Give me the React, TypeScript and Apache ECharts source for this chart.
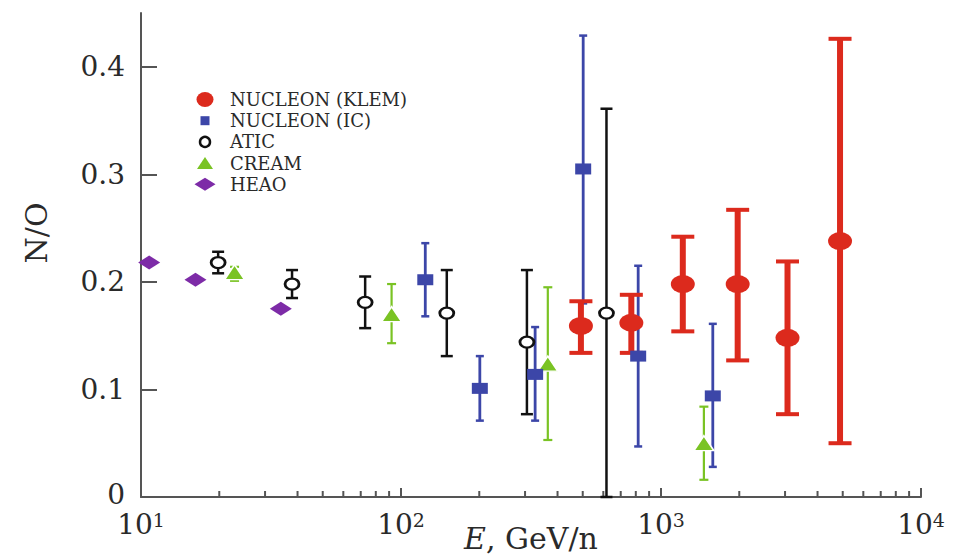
import React, { useEffect, useRef } from "react";
import * as echarts from "echarts";

// NUCLEON (KLEM)
const klemE = [492, 769, 1213, 1972, 3066, 4882];
const klemY = [0.159, 0.162, 0.198, 0.198, 0.148, 0.238];
const klemLo = [0.134, 0.134, 0.154, 0.127, 0.077, 0.05];
const klemHi = [0.182, 0.188, 0.242, 0.267, 0.219, 0.426];

// NUCLEON (IC)
const icE = [124, 201, 328, 502, 817, 1582];
const icY = [0.202, 0.101, 0.114, 0.305, 0.131, 0.094];
const icLo = [0.168, 0.071, 0.071, 0.18, 0.047, 0.028];
const icHi = [0.236, 0.131, 0.158, 0.429, 0.215, 0.161];

// ATIC
const aticE = [19.8, 38.1, 72.8, 150, 305, 617];
const aticY = [0.218, 0.198, 0.181, 0.171, 0.144, 0.171];
const aticLo = [0.208, 0.185, 0.157, 0.131, 0.077, 0];
const aticHi = [0.228, 0.211, 0.205, 0.211, 0.211, 0.361];

// CREAM
const creamE = [22.9, 92, 367, 1462];
const creamY = [0.209, 0.17, 0.124, 0.05];
const creamLo = [0.201, 0.143, 0.053, 0.016];
const creamHi = [0.214, 0.198, 0.195, 0.084];

// HEAO
const heaoE = [10.75, 16.2, 34.5];
const heaoY = [0.218, 0.202, 0.175];

// axes
const yTicks = [0, 0.1, 0.2, 0.3, 0.4];
const yLabels = ["0", "0.1", "0.2", "0.3", "0.4"];
const xMajor = [10, 100, 1000, 10000];
const xExponents = ["1", "2", "3", "4"];
const xMinor = [
  20, 30, 40, 50, 60, 70, 80, 90,
  200, 300, 400, 500, 600, 700, 800, 900,
  2000, 3000, 4000, 5000, 6000, 7000, 8000, 9000,
];

const RED = "#dc2a1d";
const BLUE = "#3c46a8";
const GREEN = "#7ac324";
const PURPLE = "#7d2ba7";
const BLACK = "#111111";
const AXIS = "#555555";
const TEXT = "#2a2a2a";
const FONT = "DejaVu Serif";

const CIRCLE_PATH = "path://M0,10A10,10,0,1,1,20,10A10,10,0,1,1,0,10Z";

function errorBars(name: string, E: number[], lo: number[], hi: number[], color: string, lw: number, cap: number, capW: number) {
  return {
    type: "custom",
    name: name + " err",
    silent: true,
    encode: { x: 0, y: [1, 2] },
    data: E.map((e, i) => [e, lo[i], hi[i]]),
    renderItem: (params: any, api: any) => {
      const x = api.value(0);
      const pLo = api.coord([x, api.value(1)]);
      const pHi = api.coord([x, api.value(2)]);
      return {
        type: "group",
        children: [
          { type: "line", shape: { x1: pLo[0], y1: pLo[1], x2: pHi[0], y2: pHi[1] }, style: { stroke: color, lineWidth: lw } },
          { type: "line", shape: { x1: pLo[0] - cap / 2, y1: pLo[1], x2: pLo[0] + cap / 2, y2: pLo[1] }, style: { stroke: color, lineWidth: capW } },
          { type: "line", shape: { x1: pHi[0] - cap / 2, y1: pHi[1], x2: pHi[0] + cap / 2, y2: pHi[1] }, style: { stroke: color, lineWidth: capW } },
        ],
      };
    },
  };
}

// icon box is 40 wide; the legend is positioned by the drawn icon's own left edge
function legendRow(name: string, icon: string, h: number, drawnW: number, center: number, itemStyle?: any) {
  return {
    show: true,
    left: 185 + (40 - drawnW) / 2,
    top: center - 10,
    padding: 0,
    itemWidth: 40,
    itemHeight: h,
    selectedMode: false,
    textStyle: { color: TEXT, fontFamily: FONT, fontSize: 18, lineHeight: 20 },
    data: [itemStyle ? { name, icon, itemStyle } : { name, icon }],
  };
}

export default function App() {
  const ref = useRef<HTMLDivElement>(null);
  useEffect(() => {
    if (!ref.current) return;
    const chart = echarts.init(ref.current, null, { renderer: "svg" });
    const option: any = {
      animation: false,
      backgroundColor: "#ffffff",
      grid: { left: 141, right: 35, top: 13, bottom: 62, containLabel: false, outerBoundsMode: "none" },
      legend: [
        legendRow("NUCLEON (KLEM)", "path://M0,7.5A8.5,7.5,0,1,1,17,7.5A8.5,7.5,0,1,1,0,7.5Z", 15, 17, 99.5),
        legendRow("NUCLEON (IC)", "path://M0,0L9,0L9,9L0,9Z", 9, 9, 120.7),
        legendRow("ATIC", "circle", 10, 12.5, 141.9, { color: "#ffffff", borderColor: BLACK, borderWidth: 2.5 }),
        legendRow("CREAM", "path://M0,12L8,0L16,12Z", 12, 16, 163.1, { color: GREEN, borderWidth: 0 }),
        legendRow("HEAO", "path://M0,6.5L10.5,0L21,6.5L10.5,13Z", 13, 21, 184.3),
      ],
      xAxis: {
        type: "log",
        logBase: 10,
        min: 10,
        max: 10000,
        name: "{i|E}, GeV/n",
        nameLocation: "middle",
        nameMoveOverlap: false,
        nameGap: 26,
        nameTextStyle: {
          fontFamily: FONT,
          fontSize: 30,
          color: TEXT,
          verticalAlign: "top",
          rich: { i: { fontFamily: FONT, fontSize: 30, fontStyle: "italic", color: TEXT } },
        },
        axisLine: { show: true, lineStyle: { color: AXIS, width: 2 } },
        axisTick: { show: true, inside: true, length: 9, lineStyle: { color: AXIS, width: 2 } },
        splitLine: { show: false },
        axisLabel: {
          showMinLabel: true,
          showMaxLabel: true,
          margin: 13,
          formatter: (v: number) => {
            const i = xMajor.findIndex((m) => Math.abs(m - v) / m < 1e-6);
            return i >= 0 ? "{b|10}{s|" + xExponents[i] + "}" : "";
          },
          rich: {
            b: { fontFamily: FONT, fontSize: 28, color: TEXT, lineHeight: 28 },
            s: { fontFamily: FONT, fontSize: 19, color: TEXT, verticalAlign: "top", lineHeight: 22 },
          },
        },
      },
      yAxis: {
        type: "value",
        min: 0,
        max: 0.45,
        name: "N/O",
        nameLocation: "middle",
        nameMoveOverlap: false,
        nameGap: 90,
        nameTextStyle: { fontFamily: FONT, fontSize: 30, color: TEXT, padding: [0, 0, 0, 44] },
        axisLine: { show: true, lineStyle: { color: AXIS, width: 2 } },
        axisTick: { show: true, inside: true, length: 16, customValues: yTicks, lineStyle: { color: AXIS, width: 2 } },
        splitLine: { show: false },
        axisLabel: {
          customValues: yTicks,
          margin: 16,
          fontFamily: FONT,
          fontSize: 28,
          color: TEXT,
          formatter: (v: number) => {
            const i = yTicks.findIndex((t) => Math.abs(t - v) < 1e-9);
            if (i < 0) return "";
            return i === 0 ? "{z|" + yLabels[i] + "}" : yLabels[i];
          },
          rich: {
            z: { fontFamily: FONT, fontSize: 28, color: TEXT, padding: [0, 0, 5, 0] },
          },
        },
      },
      series: [
        {
          type: "custom",
          name: "minor ticks",
          silent: true,
          encode: { x: 0, y: 1 },
          data: xMinor.map((v) => [v, 0]),
          renderItem: (params: any, api: any) => {
            const p = api.coord([api.value(0), 0]);
            return { type: "line", shape: { x1: p[0], y1: p[1], x2: p[0], y2: p[1] - 6 }, style: { stroke: AXIS, lineWidth: 2 } };
          },
        },
        errorBars("ATIC", aticE, aticLo, aticHi, BLACK, 2.5, 12, 2.5),
        {
          type: "scatter",
          name: "ATIC",
          symbol: CIRCLE_PATH,
          symbolSize: [14, 11],
          itemStyle: { color: "#ffffff", borderColor: BLACK, borderWidth: 2.5, opacity: 1 },
          data: aticE.map((e, i) => [e, aticY[i]]),
        },
        errorBars("CREAM", creamE, creamLo, creamHi, GREEN, 2.2, 9, 2.2),
        {
          type: "scatter",
          name: "CREAM",
          symbol: "triangle",
          symbolSize: [20, 15],
          itemStyle: { color: GREEN, borderColor: "#ffffff", borderWidth: 1.5, opacity: 1 },
          data: creamE.map((e, i) => [e, creamY[i]]),
        },
        {
          type: "scatter",
          name: "HEAO",
          symbol: "diamond",
          symbolSize: [22, 14],
          itemStyle: { color: PURPLE, opacity: 1 },
          data: heaoE.map((e, i) => [e, heaoY[i]]),
        },
        errorBars("NUCLEON (IC)", icE, icLo, icHi, BLUE, 2.8, 8, 2.5),
        {
          type: "scatter",
          name: "NUCLEON (IC)",
          symbol: "rect",
          symbolSize: [16, 11],
          itemStyle: { color: BLUE, opacity: 1 },
          data: icE.map((e, i) => [e, icY[i]]),
        },
        errorBars("NUCLEON (KLEM)", klemE, klemLo, klemHi, RED, 6, 23, 4),
        {
          type: "scatter",
          name: "NUCLEON (KLEM)",
          symbol: CIRCLE_PATH,
          symbolSize: [24, 18],
          itemStyle: { color: RED, opacity: 1 },
          data: klemE.map((e, i) => [e, klemY[i]]),
        },
      ],
    };
    chart.setOption(option);
    return () => chart.dispose();
  }, []);
  return <div ref={ref} style={{ position: "absolute", left: 0, top: 0, width: 956, height: 559 }} />;
}
